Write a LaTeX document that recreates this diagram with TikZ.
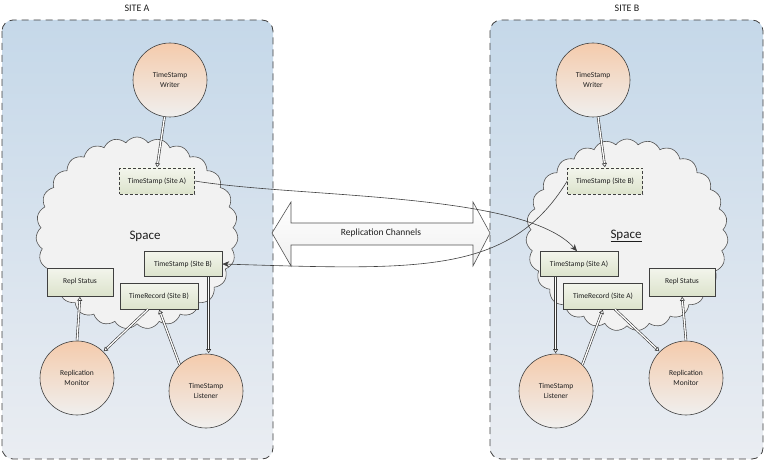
\documentclass[tikz,border=0pt]{standalone}
\usepackage{fontspec}
\setmainfont{Carlito}
\usetikzlibrary{shapes.symbols,arrows.meta}
\definecolor{bgtop}{RGB}{197,216,233}
\definecolor{bgbot}{RGB}{234,237,242}
\definecolor{ctop}{RGB}{244,203,172}
\definecolor{cbot}{RGB}{240,239,238}
\definecolor{rtop}{RGB}{243,245,236}
\definecolor{rbot}{RGB}{220,227,204}
\definecolor{edge}{RGB}{64,64,64}
\definecolor{cloudfill}{RGB}{242,242,242}
\definecolor{txt}{RGB}{30,30,30}
\tikzset{
  site/.style={draw=edge, line width=0.8pt, dash pattern=on 7pt off 5pt, rounded corners=11pt, top color=bgtop, bottom color=bgbot},
  sitelabel/.style={font=\fontsize{10}{12}\selectfont, text=txt},
  proc/.style={circle, draw=edge, line width=0.6pt, minimum size=74pt, inner sep=0pt, top color=ctop, bottom color=cbot, align=center, font=\fontsize{7.5}{9.5}\selectfont, text=txt},
  rec/.style={rectangle, draw=edge, line width=0.6pt, top color=rtop, bottom color=rbot, minimum height=26pt, inner sep=1pt, font=\fontsize{7.5}{9}\selectfont, text=txt},
  dashrec/.style={rec, dash pattern=on 3pt off 2pt},
  space/.style={cloud, cloud puffs=27, cloud puff arc=110, cloud ignores aspect, draw=edge!90, line width=0.6pt, fill=cloudfill, minimum width=202pt, minimum height=192pt},
  spacelabel/.style={font=\fontsize{13}{15}\selectfont, text=txt},
  feed/.style={draw=gray!45!black, line width=0.6pt, double=white, double distance=1.3pt, -{Triangle[open, length=4pt, width=5pt, fill=white]}, shorten >=0.5pt},
  repl/.style={draw=edge, line width=0.6pt, -{Stealth[length=7pt, width=6pt]}},
}
\begin{document}
\begin{tikzpicture}[x=1pt, y=-1pt]
\useasboundingbox (0,0) rectangle (765,462);
% sites
\path[site] (2,20) rectangle (273,459);
\path[site] (490,20) rectangle (763,459);
\node[sitelabel] (labA) at (137,8) {SITE A};
\node[sitelabel] (labB) at (627,8) {SITE B};
% clouds
\node[space] (cloudA) at (137,233) {};
\node[space] (cloudB) at (627,235) {};
\node[spacelabel] (spA) at (145,236) {Space};
\node[spacelabel] (spB) at (626,236) {\underline{Space}};
% channels
\path[draw=edge!90, line width=0.6pt, top color=white, bottom color=white!94!black]
  (272,233) -- (291,202) -- (291,223) -- (473,223) -- (473,202) -- (490,233)
  -- (473,266) -- (473,245) -- (291,245) -- (291,266) -- cycle;
\node[font=\fontsize{9.5}{11}\selectfont, text=txt] (chan) at (381,233) {Replication Channels};
% site A nodes
\node[proc] (wA) at (170,80) {TimeStamp\\Writer};
\node[proc] (mA) at (77,378) {Replication\\Monitor};
\node[proc] (lA) at (206,391) {TimeStamp\\Listener};
\node[dashrec, minimum width=75pt] (tsAA) at (157,181) {TimeStamp (Site A)};
\node[rec, minimum width=78pt, minimum height=25pt] (tsBA) at (183,264) {TimeStamp (Site B)};
\node[rec, minimum width=66pt, minimum height=28pt] (rsA) at (80,282) {Repl Status};
\node[rec, minimum width=78pt] (trA) at (159,296) {TimeRecord (Site B)};
% site B nodes
\node[proc] (wB) at (593,80) {TimeStamp\\Writer};
\node[proc] (mB) at (686,378) {Replication\\Monitor};
\node[proc] (lB) at (556,391) {TimeStamp\\Listener};
\node[dashrec, minimum width=75pt] (tsBB) at (605,181) {TimeStamp (Site B)};
\node[rec, minimum width=78pt, minimum height=25pt] (tsAB) at (579,264) {TimeStamp (Site A)};
\node[rec, minimum width=66pt, minimum height=28pt] (rsB) at (682,282) {Repl Status};
\node[rec, minimum width=79pt] (trB) at (603,296) {TimeRecord (Site A)};
% site A connectors
\draw[feed] (wA) -- (tsAA.north);
\draw[feed] (mA.north) -- (rsA.south);
\draw[feed] ([xshift=-11pt]trA.south) -- (mA.north east);
\draw[feed] (lA.north west) -- (trA.south);
\draw[feed] (tsBA.south -| 208.6,0) -- (lA.north -| 208.6,0);
% site B connectors
\draw[feed] (wB) -- (tsBB.north);
\draw[feed] (tsAB.south -| 555.6,0) -- (lB.north -| 555.6,0);
\draw[feed] (lB.north east) -- (trB.south);
\draw[feed] ([xshift=12pt]trB.south) -- (mB.north west);
\draw[feed] (mB.north) -- (rsB.south);
% replication curves
\draw[repl] (tsAA.east) .. controls (300,198) and (525,192) .. ([xshift=-2pt]tsAB.north);
\draw[repl] (tsBB.west) .. controls (510,275) and (420,270) .. (tsBA.east);
\end{tikzpicture}
\end{document}
